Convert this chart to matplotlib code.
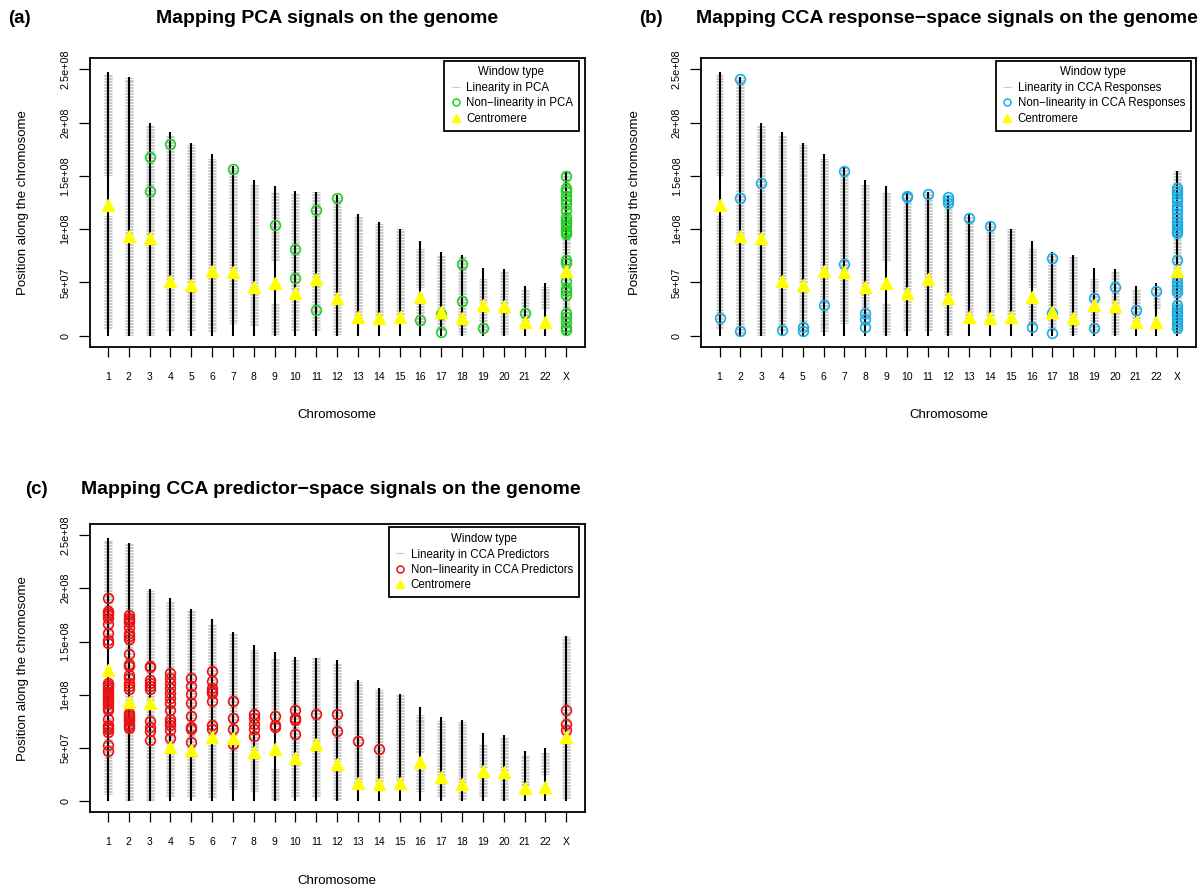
import numpy as np
import matplotlib
matplotlib.use('Agg')
import matplotlib.pyplot as plt
from matplotlib.lines import Line2D

plt.rcParams['font.family'] = ['Liberation Sans', 'DejaVu Sans']

# ---------------- data (positions in Mb) ----------------
chromosomes = ['1', '2', '3', '4', '5', '6', '7', '8', '9', '10', '11', '12',
               '13', '14', '15', '16', '17', '18', '19', '20', '21', '22', 'X']
chrom_length_mb = [247.2, 242.9, 199.5, 191.3, 180.9, 170.9, 158.8, 146.3, 140.3,
                   135.4, 134.5, 132.3, 114.1, 106.4, 100.3, 88.8, 78.8, 76.1,
                   63.8, 62.4, 46.9, 49.7, 154.9]
centromere_mb = [123.0, 93.5, 92.0, 51.0, 48.0, 60.5, 59.5, 46.0, 49.0, 40.5, 53.5,
                 35.5, 17.5, 16.5, 17.5, 36.5, 22.5, 16.5, 28.5, 27.5, 12.5, 13.0, 60.5]
# stretches of the chromosome covered by (linear) windows
window_ranges_mb = [
    [(7, 112), (151, 246)], [(1, 243)], [(1, 89), (95, 198)], [(5, 49), (53, 188)],
    [(5, 46), (50, 179)], [(4, 58), (62, 166)], [(12, 57), (62, 158)],
    [(10, 44), (48, 143)], [(2, 31), (71, 135)], [(5, 38), (42, 133)],
    [(5, 51), (55, 135)], [(2, 34), (38, 130)], [(18, 113)], [(19, 105)],
    [(20, 100)], [(10, 34), (46, 82)], [(5, 76)], [(2, 15), (18, 75)],
    [(5, 26), (32, 54)], [(2, 26), (29, 60)], [(15, 43)], [(26, 46)], [(3, 155)]]
window_step_mb = 1.4

pca_nonlinear_mb = {
    '3': [168, 136], '4': [180], '7': [156], '9': [104], '10': [81, 54],
    '11': [118, 24], '12': [129], '16': [15], '17': [20, 3.5], '18': [67, 33],
    '19': [7], '21': [21],
    'X': [150, 139, 136, 131, 127, 124, 118, 111, 108, 105, 102, 99, 97, 95,
          71, 68, 51, 45, 42, 38, 21, 18, 13, 8, 5]}
cca_resp_nonlinear_mb = {
    '1': [17], '2': [241, 129, 4], '3': [143], '4': [5], '5': [8, 4.5], '6': [29],
    '7': [155, 67], '8': [21, 16, 8], '10': [131, 130], '11': [133],
    '12': [130, 127, 125], '13': [110], '14': [103], '16': [8], '17': [73, 21, 3],
    '19': [35, 7], '20': [46], '21': [24], '22': [42],
    'X': [139, 136, 133, 129, 126, 122, 119, 115, 110, 107, 104, 101, 98, 96,
          71, 55, 50, 47, 44, 41, 29, 25, 22, 19, 16, 13, 10, 7]}
cca_pred_nonlinear_mb = {
    '1': [191, 179, 177, 175, 172, 166, 158, 151, 149, 111, 109, 107, 105, 103, 101,
          99, 97, 95, 93, 91, 88, 86, 77, 72, 70, 68, 65, 53, 47],
    '2': [175, 172, 170, 168, 164, 158, 155, 152, 138, 129, 127, 119, 116, 111, 108,
          105, 83, 81, 79, 77, 75, 73, 71, 69],
    '3': [127, 126, 114, 111, 108, 105, 75, 70, 66, 58],
    '4': [120, 116, 111, 106, 102, 97, 92, 86, 77, 74, 72, 67, 59],
    '5': [116, 108, 101, 92, 80, 70, 68, 56],
    '6': [122, 113, 106, 104, 102, 94, 72, 68],
    '7': [94, 78, 68, 54], '8': [82, 78, 73, 68, 61], '9': [80, 72, 70],
    '10': [86, 78, 76, 63], '11': [82], '12': [82, 66], '13': [57], '14': [49],
    'X': [86, 73, 67]}

y_ticks = [0, 5e7, 1e8, 1.5e8, 2e8, 2.5e8]
y_tick_labels = ['0', '5e+07', '1e+08', '1.5e+08', '2e+08', '2.5e+08']

panels = [
    dict(tag='(a)', title='Mapping PCA signals on the genome', data=pca_nonlinear_mb,
         color='#22D022', lin='Linearity in PCA', nonlin='Non\u2212linearity in PCA'),
    dict(tag='(b)', title='Mapping CCA response\u2212space signals on the genome',
         data=cca_resp_nonlinear_mb, color='#19AEE8',
         lin='Linearity in CCA Responses', nonlin='Non\u2212linearity in CCA Responses'),
    dict(tag='(c)', title='Mapping CCA predictor\u2212space signals on the genome',
         data=cca_pred_nonlinear_mb, color='#EE1111',
         lin='Linearity in CCA Predictors', nonlin='Non\u2212linearity in CCA Predictors'),
]

W, H = 1200, 892
fig = plt.figure(figsize=(W / 100, H / 100), dpi=100)

# axes boxes in pixels: left, top, right, bottom
boxes = [(89.6, 58.3, 584.6, 346.7), (701.2, 58.3, 1195.6, 346.7), (89.6, 524.0, 584.6, 812.3)]
title_pos = [(327, 18.3), (947, 18.3), (331, 490)]
tag_pos = [(19, 18.3), (651, 18.3), (36.5, 490)]
legend_anchor_px = [(578.8, 60.7), (1191, 60.7), (578.8, 527.3)]
XLABEL_OFFSET_PX = 68.3   # below the box
YLABEL_OFFSET_PX = 66.6   # left of the box

GREY = '#C8C8C8'
YELLOW = '#FFFF00'
DASH_HALF = 0.19  # half width of a window dash, in chromosome-axis units
xs = np.arange(1, len(chromosomes) + 1)

for p, (l, t, r, b), tp, gp, la in zip(panels, boxes, title_pos, tag_pos, legend_anchor_px):
    ax = fig.add_axes([l / W, 1 - b / H, (r - l) / W, (b - t) / H])
    # linear windows
    for x, ranges in zip(xs, window_ranges_mb):
        ys = np.concatenate([np.arange(a, e + 1e-9, window_step_mb) for a, e in ranges])
        ax.hlines(ys * 1e6, x - DASH_HALF, x + DASH_HALF, colors=GREY, lw=0.8, zorder=1)
    # chromosome bodies
    ax.vlines(xs, 0, np.array(chrom_length_mb) * 1e6, color='black', lw=1.5, zorder=2)
    # non-linear windows
    for chrom, pos in p['data'].items():
        xi = chromosomes.index(chrom) + 1
        ax.plot(np.full(len(pos), xi), np.array(pos) * 1e6, ls='none', marker='o',
                mfc='none', mec=p['color'], ms=7, mew=1.2, zorder=3)
    # centromeres
    ax.plot(xs, np.array(centromere_mb) * 1e6, ls='none', marker='^', color=YELLOW,
            ms=9, zorder=4)

    ax.set_xlim(0.12, 23.88)
    ax.set_ylim(-0.103e8, 2.603e8)
    ax.set_xticks(xs)
    ax.set_xticklabels(chromosomes, fontsize=7.5)
    ax.set_yticks(y_ticks)
    ax.set_yticklabels(y_tick_labels, fontsize=7.8, rotation=90, va='center')
    ax.tick_params(axis='x', length=7.5, width=0.9, pad=10.5)
    ax.tick_params(axis='y', length=8, width=0.9, pad=6)
    for s in ax.spines.values():
        s.set_linewidth(1.3)

    ax.set_xlabel('Chromosome', fontsize=9.5)
    ax.set_ylabel('Position along the chromosome', fontsize=9.5)
    ax.xaxis.set_label_coords(0.5, -XLABEL_OFFSET_PX / (b - t))
    ax.xaxis.label.set_va('center')
    ax.yaxis.set_label_coords(-YLABEL_OFFSET_PX / (r - l), 0.5)
    ax.yaxis.label.set_va('center')

    handles = [
        Line2D([], [], ls='none', marker='_', ms=5.5, mew=0.9, color=GREY),
        Line2D([], [], ls='none', marker='o', mfc='none', mec=p['color'], ms=5, mew=1.1),
        Line2D([], [], ls='none', marker='^', color=YELLOW, ms=6),
    ]
    leg = ax.legend(handles, [p['lin'], p['nonlin'], 'Centromere'], title='Window type',
                    loc='upper right',
                    bbox_to_anchor=((la[0] - l) / (r - l), (b - la[1]) / (b - t)),
                    borderaxespad=0, frameon=True, fancybox=False, framealpha=1,
                    edgecolor='black', fontsize=8.3, title_fontsize=8.3,
                    handlelength=1.0, handletextpad=0.4, labelspacing=0.3,
                    borderpad=0.5)
    leg.get_frame().set_linewidth(1.3)

    fig.text(tp[0] / W, 1 - tp[1] / H, p['title'], ha='center', va='center',
             fontsize=14, fontweight='bold')
    fig.text(gp[0] / W, 1 - gp[1] / H, p['tag'], ha='center', va='center',
             fontsize=13.5, fontweight='bold')

fig.savefig('out.png', dpi=100)
